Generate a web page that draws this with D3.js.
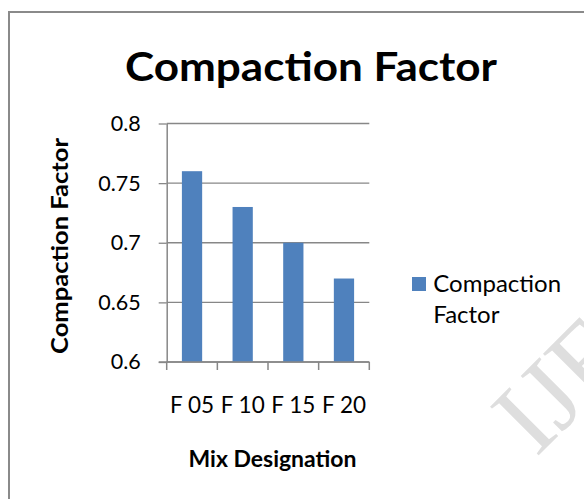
<!DOCTYPE html>
<html>
<head>
<meta charset="utf-8">
<script src="https://cdn.jsdelivr.net/npm/d3@7"></script>
<style>
  html, body { margin: 0; padding: 0; background: #ffffff; }
  svg { display: block; font-family: Lato, "Open Sans", sans-serif; }
</style>
</head>
<body>
<svg id="chart" width="584" height="499"></svg>
<script>
// Compaction factor per mix
const categories = ["F 05", "F 10", "F 15", "F 20"];
const values = [0.76, 0.73, 0.70, 0.67];
const yTicks = [0.6, 0.65, 0.7, 0.75, 0.8];
const yTickLabels = ["0.6", "0.65", "0.7", "0.75", "0.8"];
const seriesName = "Compaction Factor";
const titleText = "Compaction Factor";
const xTitle = "Mix Designation";
const yTitle = "Compaction Factor";

const barColor = "#4F81BD";
const axisColor = "#878787";

const svg = d3.select("#chart");

// chart frame (continues past the right and bottom edges)
svg.append("rect")
  .attr("x", 9).attr("y", 12)
  .attr("width", 640).attr("height", 540)
  .attr("fill", "#ffffff")
  .attr("stroke", "#8a8a8a")
  .attr("stroke-width", 2);

const plot = { left: 166.7, right: 369.3, top: 123.5, bottom: 362 };

const x = d3.scaleBand()
  .domain(categories)
  .range([plot.left, plot.right])
  .paddingInner(0.6)
  .paddingOuter(0.3);

const y = d3.scaleLinear()
  .domain([0.6, 0.8])
  .range([plot.bottom, plot.top]);

// horizontal gridlines
svg.append("g")
  .selectAll("line")
  .data(yTicks)
  .join("line")
  .attr("x1", plot.left).attr("x2", plot.right)
  .attr("y1", d => y(d)).attr("y2", d => y(d))
  .attr("stroke", axisColor)
  .attr("stroke-width", 1.3);

// bars
svg.append("g")
  .selectAll("rect")
  .data(values)
  .join("rect")
  .attr("x", (d, i) => x(categories[i]))
  .attr("width", x.bandwidth())
  .attr("y", d => y(d))
  .attr("height", d => y(0.6) - y(d))
  .attr("fill", barColor);

// y axis
const yAxis = d3.axisLeft(y)
  .tickValues(yTicks)
  .tickFormat((d, i) => yTickLabels[i])
  .tickSize(8)
  .tickSizeOuter(0)
  .tickPadding(18);

const yg = svg.append("g")
  .attr("transform", `translate(${plot.left},0)`)
  .call(yAxis);
yg.select(".domain").attr("stroke", axisColor).attr("stroke-width", 1.5);
yg.selectAll(".tick line").attr("stroke", axisColor).attr("stroke-width", 1.3);
yg.selectAll(".tick text")
  .attr("fill", "#000")
  .style("font-family", "Lato, sans-serif")
  .style("font-size", "21.5px");

// x axis line with tick marks between categories
const step = x.step();
const gap = step - x.bandwidth();
const bounds = categories.map(c => x(c) - gap / 2).concat([x(categories[categories.length - 1]) + x.bandwidth() + gap / 2]);

const xg = svg.append("g");
xg.append("line")
  .attr("x1", plot.left - 8).attr("x2", plot.right)
  .attr("y1", plot.bottom).attr("y2", plot.bottom)
  .attr("stroke", axisColor).attr("stroke-width", 1.5);
xg.selectAll("line.tick")
  .data(bounds)
  .join("line")
  .attr("class", "tick")
  .attr("x1", d => d).attr("x2", d => d)
  .attr("y1", plot.bottom).attr("y2", plot.bottom + 8)
  .attr("stroke", axisColor).attr("stroke-width", 1.5);
xg.selectAll("text")
  .data(categories)
  .join("text")
  .attr("x", d => x(d) + x.bandwidth() / 2)
  .attr("y", 412.7)
  .attr("text-anchor", "middle")
  .style("font-size", "22.5px")
  .attr("fill", "#000")
  .text(d => d);

// title
svg.append("text")
  .attr("x", 311).attr("y", 81)
  .attr("text-anchor", "middle")
  .attr("textLength", 372)
  .attr("lengthAdjust", "spacingAndGlyphs")
  .style("font-size", "41px")
  .style("font-weight", "bold")
  .text(titleText);

// axis titles
svg.append("text")
  .attr("x", 272.5).attr("y", 466.7)
  .attr("text-anchor", "middle")
  .attr("textLength", 168)
  .attr("lengthAdjust", "spacingAndGlyphs")
  .style("font-size", "23.5px")
  .style("font-weight", "bold")
  .text(xTitle);

svg.append("text")
  .attr("transform", "translate(68,246) rotate(-90)")
  .attr("text-anchor", "middle")
  .attr("textLength", 216)
  .attr("lengthAdjust", "spacingAndGlyphs")
  .style("font-size", "23.5px")
  .style("font-weight", "bold")
  .text(yTitle);

// legend
const legend = svg.append("g");
legend.append("rect")
  .attr("x", 412).attr("y", 277)
  .attr("width", 14).attr("height", 14)
  .attr("fill", barColor);
const legendWords = seriesName.split(" ");
legend.selectAll("text")
  .data(legendWords)
  .join("text")
  .attr("x", 433.3)
  .attr("y", (d, i) => 291.7 + i * 31.6)
  .style("font-size", "24px")
  .attr("fill", "#000")
  .text(d => d);

// faint diagonal watermark in the lower right
svg.append("text")
  .attr("transform", "translate(536,458) rotate(-45)")
  .style("font-family", "'Liberation Serif', serif")
  .style("font-size", "105px")
  .attr("fill", "#d9d9d9")
  .attr("opacity", 0.85)
  .text("IJERT");
</script>
</body>
</html>
